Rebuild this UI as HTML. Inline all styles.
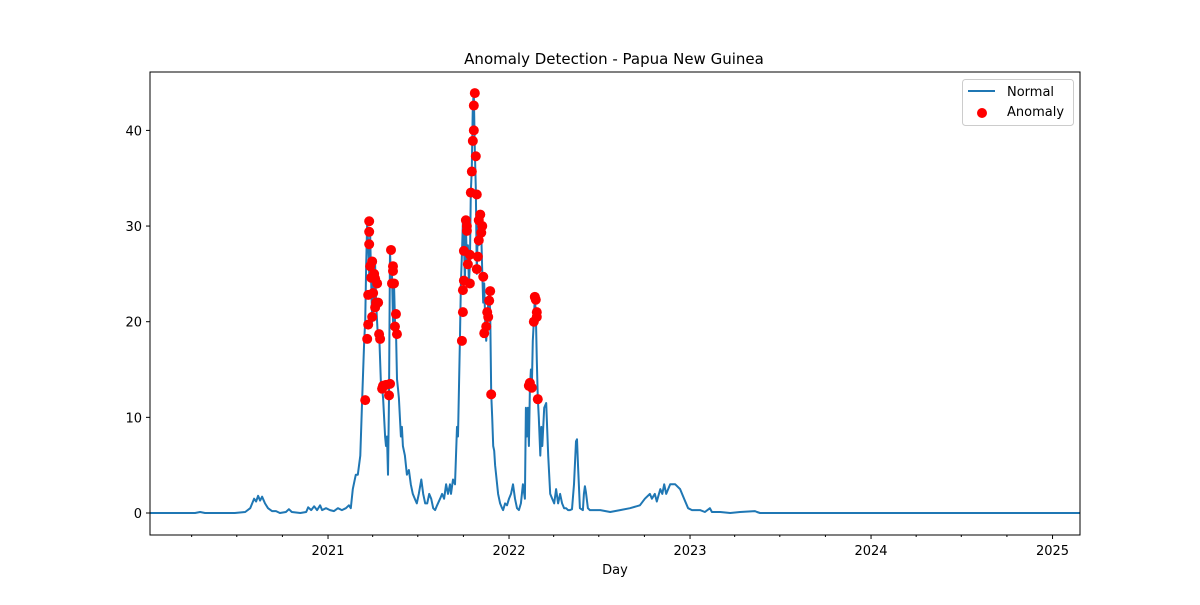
<!DOCTYPE html>
<html><head><meta charset="utf-8"><style>
body{margin:0;background:#fff;}
svg text{font-family:"DejaVu Sans","Liberation Sans",sans-serif;}
</style></head><body>
<svg id="chart" width="1200" height="600" xmlns="http://www.w3.org/2000/svg">
<rect width="1200" height="600" fill="#fff"/>
<text x="614" y="64" text-anchor="middle" font-size="15" fill="#000">Anomaly Detection - Papua New Guinea</text>
<g id="plot"></g>
<rect x="150" y="72" width="930" height="463" fill="none" stroke="#000" stroke-width="1"/>
<text x="615" y="574" text-anchor="middle" font-size="13">Day</text>
<g>
<rect x="962.5" y="79.5" width="111" height="46" rx="3" fill="#fff" stroke="#ccc"/>
<line x1="968" y1="91" x2="995" y2="91" stroke="#1f77b4" stroke-width="2"/>
<text x="1007" y="96" font-size="13">Normal</text>
<circle cx="982" cy="113" r="5" fill="red"/>
<text x="1007" y="116" font-size="13">Anomaly</text>
</g>
</svg>
<script>
const lineDays=[0,91,101,111,171,192,202,210,214,218,222,226,232,238,246,254,262,274,280,286,303,315,319,325,331,337,343,347,355,363,371,379,387,395,401,405,409,415,419,424,428,432,434,436,438,440,442,444,446,448,450,452,454,456,458,460,462,464,466,468,470,474,476,478,480,482,484,486,488,490,492,494,496,498,500,502,504,506,508,510,514,518,522,526,530,534,538,542,547,551,555,559,563,567,571,575,579,585,589,593,597,601,605,607,611,615,617,619,621,625,627,629,631,633,635,637,639,641,643,645,647,649,651,653,655,657,659,661,663,666,668,670,672,674,676,678,680,682,684,686,688,690,692,694,696,698,700,702,706,710,712,716,720,724,728,732,736,740,744,748,752,756,758,760,762,764,766,768,770,772,774,776,778,780,782,784,787,789,791,795,799,803,807,811,815,819,823,827,831,835,839,843,847,851,855,859,861,863,867,873,875,877,879,883,887,908,928,948,968,988,998,1008,1012,1018,1022,1029,1033,1037,1041,1049,1059,1069,1077,1085,1093,1109,1119,1129,1133,1150,1170,1190,1220,1224,1230,1876];
const lineVals=[0,0,0.1,0,0,0.1,0.5,1.5,1.2,1.8,1.3,1.7,1,0.5,0.2,0.2,0,0.1,0.4,0.1,0,0.1,0.6,0.3,0.7,0.3,0.8,0.3,0.5,0.3,0.2,0.5,0.3,0.5,0.8,0.5,2.5,4,4,6,12,18,20,26,30.5,28,25,29,24,20,25,22,26,22,20,18,19,16,13,13,12,8,7,8,4,12,27.5,24,25,20,24,20,19,14,13,12,10,8,9,7,6,4,4.5,3,2,1.5,1,2,3.5,2,1,1,2,1.5,0.5,0.3,0.8,1.5,2,1.5,3,2,3,2,3.5,3,6,9,8,18,24,27,30.5,29,24,30,26,28,24,26,33.5,36,42.5,44,38,34,25,30,28,31,29,25,22,24,20,18,19.5,22,23,21,12.5,10,7,6.5,5,4,3,2,1,0.5,0.3,1,0.8,1.5,2,3,1.5,0.5,0.3,1,3,1.5,11,8,11,7,13,15,13,18,20,22.5,21,16,12,10,6,9,7,11,11.5,6,2,1.5,1,2.5,1,2,1,0.5,0.5,0.3,0.3,0.4,3,7.5,7.7,5,0.5,0.3,2,2.8,2.2,0.5,0.3,0.3,0.1,0.3,0.5,0.8,1.5,2,1.5,2,1.2,2.5,2,3,2,3,3,2.5,1.5,0.5,0.3,0.3,0.1,0.5,0.1,0.1,0,0.1,0.2,0.1,0,0];
const anomDays=[434,438,440,440,442,442,442,444,446,448,448,450,452,454,454,456,458,460,462,464,468,470,476,482,484,486,488,490,490,492,494,496,498,629,631,631,633,633,637,639,639,641,645,645,647,649,651,653,653,655,657,659,659,661,663,663,666,668,670,672,674,678,680,682,684,686,688,764,766,770,774,776,778,780,780,782];
const anomVals=[11.8,18.2,19.7,22.8,28.1,29.4,30.5,25.8,24.6,20.5,26.3,23,25,21.5,24.5,22,24,22,18.7,18.2,13,13.3,13.4,12.3,13.5,27.5,24,25.3,25.8,24,19.5,20.8,18.7,18,21,23.3,24.3,27.4,30.6,30,29.5,26,24,27,33.5,35.7,38.9,40,42.6,43.9,37.3,33.3,25.5,26.8,28.5,30.6,31.2,29.3,30,24.7,18.8,19.5,21,20.5,22.2,23.2,12.4,13.3,13.6,13.1,20,22.6,22.3,21,20.5,11.9];
const yTicks=[0,10,20,30,40];
const xYears=[2021,2022,2023,2024,2025];

const NS='http://www.w3.org/2000/svg';
const start=Date.UTC(2020,0,8);
const X0=150,X1=1080,PXD=0.4959;
const x=d=>X0+d*PXD;
const y=v=>513-v*9.565;
const dayOf=(yr,m)=>(Date.UTC(yr,m,1)-start)/86400000;
const g=document.getElementById('plot');
function mk(t,a){const e=document.createElementNS(NS,t);for(const k in a)e.setAttribute(k,a[k]);g.appendChild(e);return e;}

yTicks.forEach(v=>{
  const t=mk('line',{x1:146,x2:150,y1:y(v),y2:y(v),stroke:'#000'});
  
  
  const l=mk('text',{x:142,y:y(v)+5,'text-anchor':'end','font-size':13});
  l.textContent=v;
  
  
});
for(let yr=2020;yr<=2025;yr++){for(const m of [0,3,6,9]){
  const d=dayOf(yr,m);const px=x(d);if(px<X0||px>X1)continue;
  const major=m===0;
  const t=mk('line',{x1:px,x2:px,y1:535,y2:major?539:537,stroke:'#000'});
  
  
}}
xYears.forEach(yr=>{
  const l=mk('text',{x:x(dayOf(yr,0)),y:555,'text-anchor':'middle','font-size':13});
  l.textContent=yr;
  
  
});
const pts=lineDays.map((d,i)=>x(d).toFixed(1)+','+y(lineVals[i]).toFixed(1)).join(' ');
const pl=mk('polyline',{points:pts,fill:'none',stroke:'#1f77b4','stroke-width':2,'stroke-linejoin':'round'});


anomDays.forEach((d,i)=>{
  const c=mk('circle',{cx:x(d),cy:y(anomVals[i]),r:5,fill:'red'});
  
  
});
</script>
</body></html>
